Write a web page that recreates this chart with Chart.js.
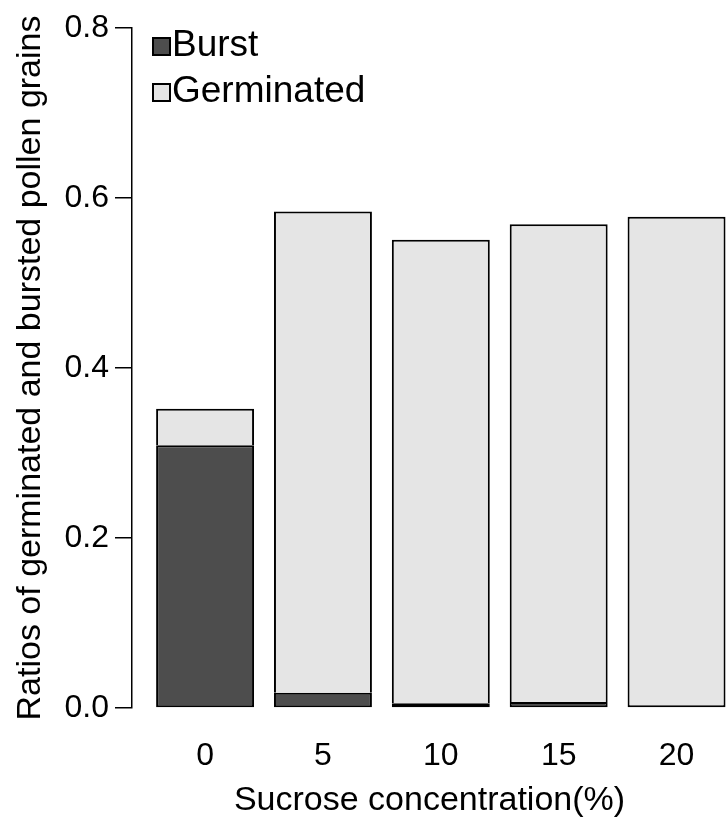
<!DOCTYPE html>
<html>
<head>
<meta charset="utf-8">
<script src="https://cdn.jsdelivr.net/npm/chart.js@4"></script>
<style>
    html, body { margin: 0; padding: 0; background: #fff; overflow: hidden; }
    #wrap { width: 727px; height: 821px; }
</style>
</head>
<body>
<div id="wrap"><canvas id="pollen" width="727" height="821"></canvas></div>
<script>
// sucrose concentration (%) on the x axis
const concentrations = [0, 5, 10, 15, 20];
// stacked ratios
const burst = [0.309, 0.018, 0.0055, 0.007, 0];
const germinated = [0.043, 0.566, 0.5455, 0.562, 0.578];
const yTicks = [0, 0.2, 0.4, 0.6, 0.8];

const FONT = '"Liberation Sans", Arial, sans-serif';

// legend drawn in the top left corner of the plot, like the original
const cornerLegend = {
    id: 'cornerLegend',
    afterDraw(chart) {
        const ctx = chart.ctx;
        ctx.save();
        ctx.font = '37px ' + FONT;
        ctx.textBaseline = 'alphabetic';
        ctx.textAlign = 'left';
        chart.data.datasets.forEach((ds, i) => {
            const y = 38 + i * 46;
            ctx.fillStyle = ds.backgroundColor;
            ctx.fillRect(153, y, 17, 17);
            ctx.strokeStyle = '#000';
            ctx.lineWidth = 2;
            ctx.strokeRect(153, y, 17, 17);
            ctx.fillStyle = '#000';
            ctx.fillText(ds.label, 172, y + 18);
        });
        ctx.restore();
    }
};

document.addEventListener('DOMContentLoaded', () => {

    const ctx = document.getElementById('pollen');
    const myChart = new Chart(ctx, {
        type: 'bar',
        data: {
            datasets: [{
                label: 'Burst',
                data: concentrations.map((c, i) => ({x: c, y: burst[i]})),
                backgroundColor: '#4d4d4d',
                borderColor: '#000',
                borderWidth: 2,
                borderSkipped: false,
                categoryPercentage: 1,
                barPercentage: 0.831
            }, {
                label: 'Germinated',
                data: concentrations.map((c, i) => ({x: c, y: germinated[i]})),
                backgroundColor: '#e5e5e5',
                borderColor: '#000',
                borderWidth: 2,
                // the burst segment already draws the shared edge
                borderSkipped: (c) => burst[c.dataIndex] > 0 ? 'bottom' : false,
                categoryPercentage: 1,
                barPercentage: 0.831
            }]
        },
        options: {
            responsive: false,
            animation: false,
            layout: {
                padding: {left: 0, right: 0, top: 28, bottom: 0}
            },
            plugins: {
                legend: {display: false},
                tooltip: {enabled: false}
            },
            scales: {
                x: {
                    type: 'linear',
                    stacked: true,
                    offset: false,
                    min: -3.10,
                    max: 22.14,
                    afterBuildTicks: (scale) => {
                        scale.ticks = concentrations.map(v => ({value: v}));
                    },
                    afterFit: (scale) => { scale.height = 113; },
                    grid: {display: false, drawTicks: false},
                    border: {display: false},
                    ticks: {
                        padding: 29,
                        maxRotation: 0,
                        color: '#000',
                        font: {family: FONT, size: 32}
                    },
                    title: {
                        display: true,
                        text: 'Sucrose concentration(%)',
                        color: '#000',
                        padding: {top: 5, bottom: 0},
                        font: {family: FONT, size: 34}
                    }
                },
                y: {
                    stacked: true,
                    min: 0,
                    max: 0.8,
                    afterBuildTicks: (scale) => {
                        scale.ticks = yTicks.map(v => ({value: v}));
                    },
                    afterFit: (scale) => { scale.width = 132; },
                    grid: {
                        display: true,
                        drawOnChartArea: false,
                        drawTicks: true,
                        tickLength: 17,
                        color: '#000',
                        lineWidth: 1.5
                    },
                    border: {display: true, color: '#000', width: 1.5},
                    ticks: {
                        padding: 6,
                        color: '#000',
                        font: {family: FONT, size: 32},
                        callback: (v) => Number(v).toFixed(1)
                    },
                    title: {
                        display: true,
                        text: 'Ratios of germinated and bursted pollen grains',
                        color: '#000',
                        padding: {top: 10, bottom: 15},
                        font: {family: FONT, size: 34}
                    }
                }
            }
        },
        plugins: [cornerLegend]
    });

});
</script>
</body>
</html>
